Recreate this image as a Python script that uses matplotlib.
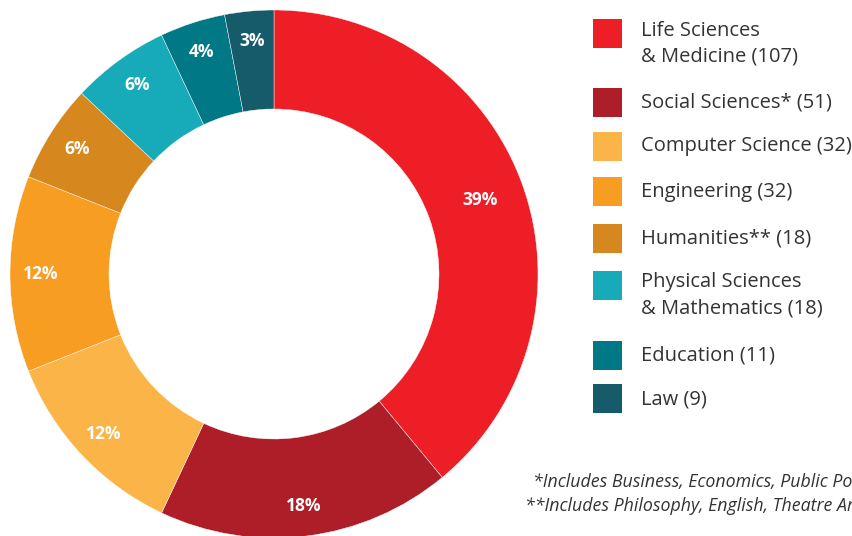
import numpy as np
import matplotlib.pyplot as plt

plt.rcParams['font.family'] = ['Open Sans', 'DejaVu Sans']

# data
labels = ['Life Sciences\n& Medicine', 'Social Sciences*', 'Computer Science',
          'Engineering', 'Humanities**', 'Physical Sciences\n& Mathematics',
          'Education', 'Law']
counts = [107, 51, 32, 32, 18, 18, 11, 9]
pcts = [39, 18, 12, 12, 6, 6, 4, 3]   # wedges are drawn from the rounded shares
colors = ['#ED1E26', '#AD1E29', '#FBB447', '#F79D21', '#D6881E',
          '#17ABBA', '#017886', '#155B6A']
notes = ['*Includes Business, Economics, Public Policy',
         '**Includes Philosophy, English, Theatre Arts']

W, H = 853, 536
fig = plt.figure(figsize=(W / 100, H / 100), dpi=100)

# donut axes, centre (274, 274) px, outer radius 264 px
cx, cy, R = 274, 274, 264
ax = fig.add_axes([(cx - R) / W, (H - cy - R) / H, 2 * R / W, 2 * R / H])
wedges, _ = ax.pie(pcts, colors=colors, startangle=90, counterclock=False,
                   radius=1.0,
                   wedgeprops=dict(width=0.375, edgecolor='white', linewidth=0.3))
ax.set_xlim(-1, 1)
ax.set_ylim(-1, 1)
ax.set_aspect('equal')
ax.axis('off')

# percentage labels
total = float(sum(pcts))
start = 90.0
for i, p in enumerate(pcts):
    span = 360.0 * p / total
    mid = np.deg2rad(start - span / 2)
    r = 0.83 if i == 0 else 0.885
    ax.text(r * np.cos(mid), r * np.sin(mid), '%d%%' % p, ha='center', va='center',
            color='white', fontsize=12.5, fontweight='bold')
    start -= span

# legend
sq_centres = [33.5, 102, 146, 191, 238, 285.5, 355.5, 398.5]
sq = 29
for lab, n, col, yc in zip(labels, counts, colors, sq_centres):
    fig.patches.append(plt.Rectangle((593 / W, (H - yc - sq / 2) / H), sq / W, sq / H,
                                     transform=fig.transFigure, color=col, lw=0))
    lines = ('%s (%d)' % (lab, n)).split('\n')
    if len(lines) == 2:
        bases = [yc + 2, yc + 28]
    else:
        bases = [yc + 5.5]
    for line, b in zip(lines, bases):
        fig.text(641 / W, (H - b) / H, line, ha='left', va='baseline',
                 fontsize=14.5, color='#333333')

# footnotes
fig.text(533 / W, (H - 487) / H, notes[0], ha='left', va='baseline',
         fontsize=12.8, style='italic', color='#333333')
fig.text(525 / W, (H - 511) / H, notes[1], ha='left', va='baseline',
         fontsize=12.8, style='italic', color='#333333')

fig.savefig('out.png', dpi=100)
